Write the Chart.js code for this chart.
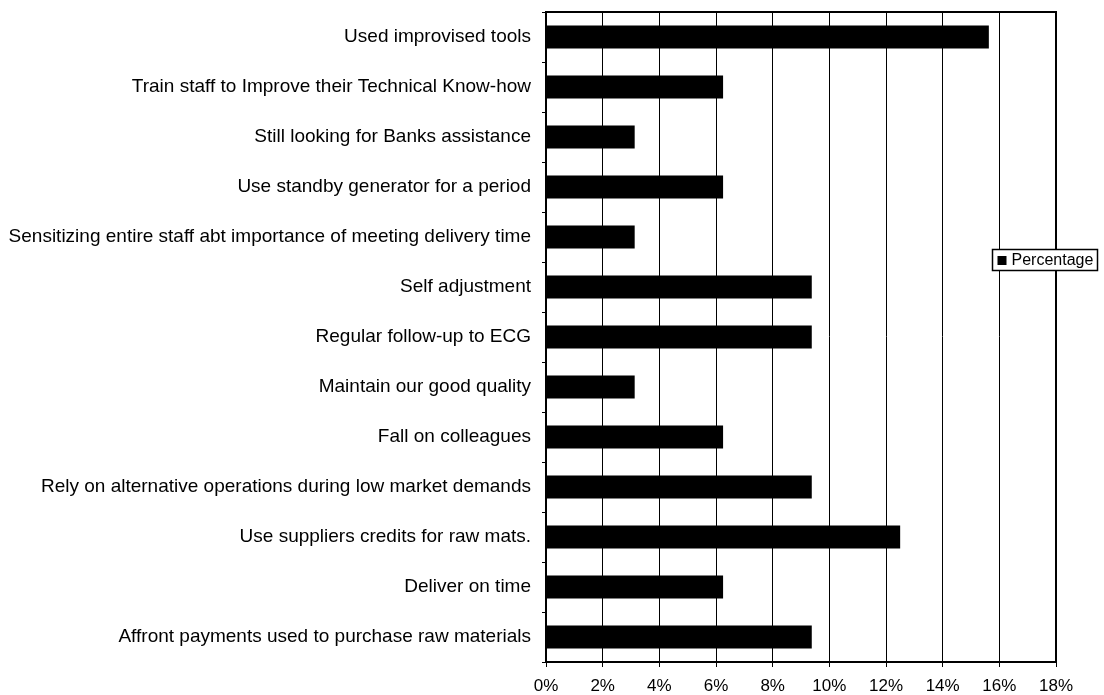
<!DOCTYPE html>
<html>
<head>
<meta charset="utf-8">
<script src="https://cdn.jsdelivr.net/npm/chart.js@4.4.1/dist/chart.umd.min.js"></script>
<style>
  html, body { margin: 0; padding: 0; background: #fff; }
  #wrap { width: 1104px; height: 695px; position: relative; }
</style>
</head>
<body>
<div id="wrap"><canvas id="c" width="1104" height="695"></canvas></div>
<script>
// Coping strategies and the share of respondents naming each one
const categories = [
  'Used improvised tools',
  'Train staff to Improve their Technical Know-how',
  'Still looking for Banks assistance',
  'Use standby generator for a period',
  'Sensitizing entire staff abt importance of meeting delivery time',
  'Self adjustment',
  'Regular follow-up to ECG',
  'Maintain our good quality',
  'Fall on colleagues',
  'Rely on alternative operations during low market demands',
  'Use suppliers credits for raw mats.',
  'Deliver on time',
  'Affront payments used to purchase raw materials'
];
const percentage = [15.63, 6.25, 3.13, 6.25, 3.13, 9.38, 9.38, 3.13, 6.25, 9.38, 12.5, 6.25, 9.38];
const xTicks = [0, 2, 4, 6, 8, 10, 12, 14, 16, 18];
const seriesName = 'Percentage';

const FONT = "'Liberation Sans', Arial, Helvetica, sans-serif";

// Frame around the plot area plus a boxed legend laid over its right edge
const framePlugin = {
  id: 'frameAndLegend',
  afterDraw(chart) {
    const { ctx, chartArea: a } = chart;
    ctx.save();
    ctx.strokeStyle = '#000';
    ctx.lineWidth = 2;
    ctx.beginPath();
    ctx.moveTo(a.left, a.top);
    ctx.lineTo(a.right, a.top);
    ctx.lineTo(a.right, a.bottom);
    ctx.stroke();

    const bx = 992.5, by = 249.5, bw = 105, bh = 21;
    ctx.fillStyle = '#fff';
    ctx.fillRect(bx, by, bw, bh);
    ctx.lineWidth = 1.5;
    ctx.strokeRect(bx, by, bw, bh);
    ctx.fillStyle = '#000';
    ctx.fillRect(bx + 5, by + 6.5, 9, 9);
    ctx.font = '16px ' + FONT;
    ctx.textBaseline = 'middle';
    ctx.textAlign = 'left';
    ctx.fillText(seriesName, bx + 19, by + bh / 2 + 1);
    ctx.restore();
  }
};

new Chart(document.getElementById('c'), {
  type: 'bar',
  data: {
    labels: categories,
    datasets: [{
      label: seriesName,
      data: percentage,
      backgroundColor: '#000',
      borderWidth: 0,
      barPercentage: 0.46,
      categoryPercentage: 1.0
    }]
  },
  options: {
    indexAxis: 'y',
    responsive: false,
    animation: false,
    devicePixelRatio: 1,
    layout: { padding: { top: 12, right: 48, left: 0, bottom: 0 } },
    plugins: {
      legend: { display: false },
      tooltip: { enabled: false }
    },
    scales: {
      x: {
        min: 0,
        max: 18,
        afterBuildTicks(scale) {
          scale.ticks = xTicks.map(v => ({ value: v }));
        },
        afterFit(scale) { scale.height = 33; },
        ticks: {
          callback: v => v + '%',
          color: '#000',
          font: { family: FONT, size: 17 },
          padding: 9,
          maxRotation: 0
        },
        grid: { color: '#000', lineWidth: 1, tickLength: 5 },
        border: { display: true, color: '#000', width: 2 }
      },
      y: {
        afterFit(scale) {
          scale.width = 546;
          scale.paddingTop = 0;
          scale.paddingBottom = 0;
        },
        ticks: {
          color: '#000',
          font: { family: FONT, size: 19 },
          padding: 11,
          autoSkip: false
        },
        grid: { drawOnChartArea: false, color: '#000', tickLength: 4, offset: true },
        border: { display: true, color: '#000', width: 2 }
      }
    }
  },
  plugins: [framePlugin]
});
</script>
</body>
</html>
